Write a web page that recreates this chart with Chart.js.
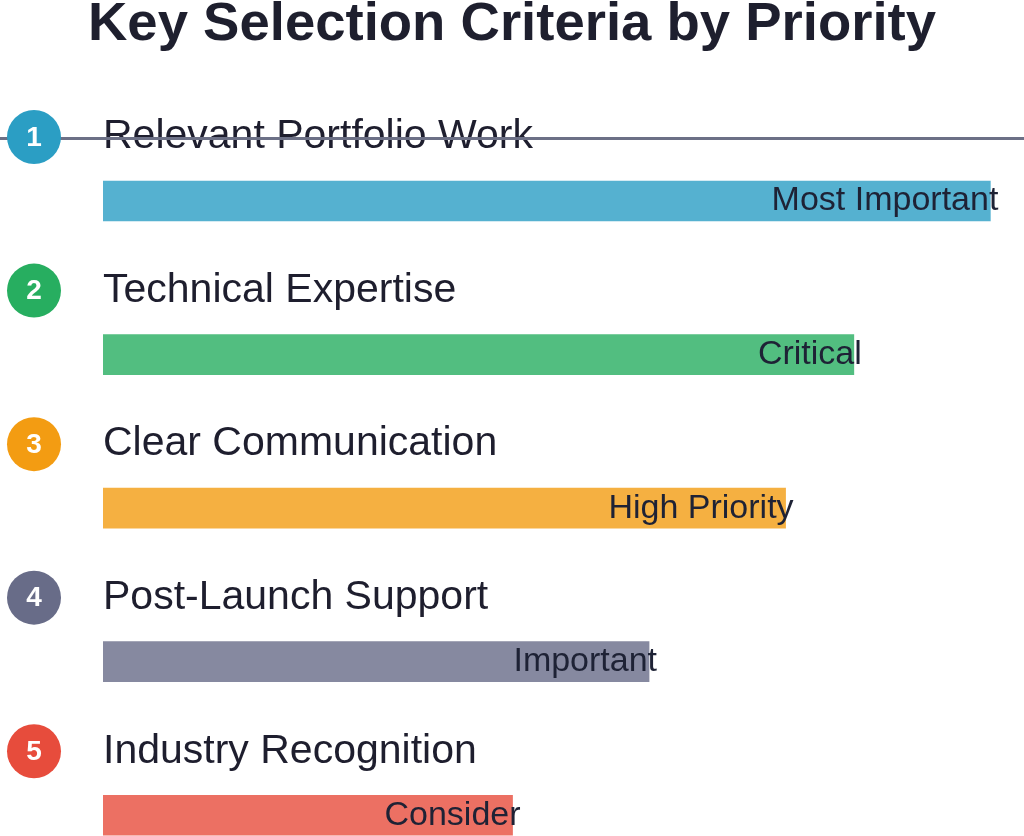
<!DOCTYPE html>
<html>
<head>
<meta charset="utf-8">
<script src="https://cdn.jsdelivr.net/npm/chart.js@4"></script>
<style>
  html, body { margin: 0; padding: 0; background: #fff; overflow: hidden; }
  #wrap { width: 1024px; height: 900px; position: relative; }
</style>
</head>
<body>
<div id="wrap"><canvas id="chartCriteria"></canvas></div>
<script>
const criteria = ['Relevant Portfolio Work', 'Technical Expertise', 'Clear Communication', 'Post-Launch Support', 'Industry Recognition'];
const scores = [65, 55, 50, 40, 30];
const priorityTags = ['Most Important', 'Critical', 'High Priority', 'Important', 'Consider'];
const chartTitle = 'Key Selection Criteria by Priority';

const colors = ['#2b9ec4', '#27ae60', '#f39c12', '#686c88', '#e74c3c'];
const FONT = "'Liberation Sans', Arial, sans-serif";

function fade(hex, a) {
  const n = parseInt(hex.slice(1), 16);
  return 'rgba(' + (n >> 16) + ',' + ((n >> 8) & 255) + ',' + (n & 255) + ',' + a + ')';
}

const rowDecor = {
  id: 'rowDecor',
  afterDatasetsDraw(chart) {
    const c = chart.ctx;
    const bars = chart.getDatasetMeta(0).data;
    c.save();
    // title
    c.fillStyle = '#1e1f2e';
    c.font = 'bold 54.5px ' + FONT;
    c.textAlign = 'center';
    c.textBaseline = 'alphabetic';
    c.fillText(chartTitle, chart.width / 2, 40);

    bars.forEach(function(bar, i) {
      const labelY = bar.y - 64;
      // category name above bar
      c.fillStyle = '#1e1e2e';
      c.font = '41px ' + FONT;
      c.textAlign = 'left';
      c.textBaseline = 'middle';
      c.fillText(criteria[i], chart.chartArea.left, labelY);
      // priority tag at bar end
      c.font = '34px ' + FONT;
      c.textAlign = 'right';
      c.fillStyle = '#1e2235';
      c.fillText(priorityTags[i], bar.x + 8, bar.y);
    });
    // stray rule through first row
    const y0 = bars[0].y - 64 + 1.5;
    c.strokeStyle = '#6c7086';
    c.lineWidth = 3;
    c.beginPath();
    c.moveTo(0, y0);
    c.lineTo(chart.width, y0);
    c.stroke();
    // numbered circles
    bars.forEach(function(bar, i) {
      const cy = bar.y - 64;
      c.fillStyle = colors[i];
      c.beginPath();
      c.arc(34, cy, 27, 0, Math.PI * 2);
      c.fill();
      c.fillStyle = '#ffffff';
      c.font = 'bold 28px ' + FONT;
      c.textAlign = 'center';
      c.textBaseline = 'middle';
      c.fillText(String(i + 1), 34, cy + 1);
    });
    c.restore();
  }
};

new Chart(document.getElementById('chartCriteria'), {
  type: 'bar',
  data: {
    labels: criteria,
    datasets: [{
      data: scores,
      backgroundColor: colors.map(function(col) { return fade(col, 0.8); }),
      barThickness: 40,
      borderWidth: 0
    }]
  },
  options: {
    indexAxis: 'y',
    responsive: true,
    maintainAspectRatio: false,
    animation: false,
    layout: { padding: { left: 103, right: 20, top: 124.25, bottom: 8 } },
    scales: {
      x: { display: false, min: 0, max: 66 },
      y: { display: false }
    },
    plugins: {
      legend: { display: false },
      tooltip: { enabled: false },
      title: { display: false }
    }
  },
  plugins: [rowDecor]
});
</script>
</body>
</html>
